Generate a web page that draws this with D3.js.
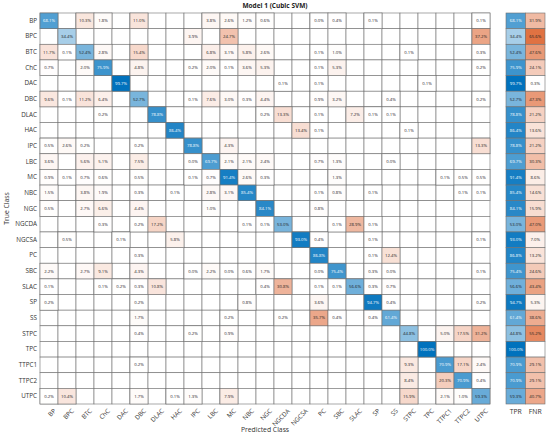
<!DOCTYPE html>
<html>
<head>
<meta charset="utf-8">
<script src="https://cdn.jsdelivr.net/npm/d3@7"></script>
<style>
  body { margin: 0; background: #fff; }
  text { font-family: "Open Sans", "DejaVu Sans", sans-serif; }
</style>
</head>
<body>
<svg id="chart" width="550" height="441"></svg>
<script>
// Classes (true = rows, predicted = columns)
const classes = ["BP","BPC","BTC","ChC","DAC","DBC","DLAC","HAC","IPC","LBC","MC","NBC","NGC",
  "NGCDA","NGCSA","PC","SBC","SLAC","SP","SS","STPC","TPC","TTPC1","TTPC2","UTPC"];

// non-zero cells per true class: [predicted class, percent]
const rowBP    = [["BP",68.1],["BTC",10.3],["ChC",1.8],["DBC",11.0],["LBC",3.8],["MC",2.6],["NBC",1.2],["NGC",0.6],["PC",0.0],["SBC",0.4],["SP",0.1],["UTPC",0.1]];
const rowBPC   = [["BPC",34.4],["IPC",3.9],["MC",24.7],["UTPC",37.2]];
const rowBTC   = [["BP",11.7],["BPC",0.1],["BTC",52.4],["ChC",2.8],["DBC",15.4],["LBC",6.8],["MC",3.1],["NBC",5.8],["NGC",2.6],["PC",0.1],["SBC",1.0],["STPC",0.1],["UTPC",0.3]];
const rowChC   = [["BP",0.7],["BTC",2.0],["ChC",75.9],["DBC",4.8],["IPC",0.2],["LBC",2.0],["MC",0.1],["NBC",3.6],["NGC",5.3],["PC",0.1],["SBC",5.3],["UTPC",0.2]];
const rowDAC   = [["DAC",99.7],["NGCDA",0.1],["PC",0.1],["TPC",0.1]];
const rowDBC   = [["BP",9.6],["BPC",0.1],["BTC",11.2],["ChC",6.4],["DBC",52.7],["IPC",0.1],["LBC",7.6],["MC",3.0],["NBC",0.3],["NGC",4.4],["PC",0.9],["SBC",3.2],["SS",0.4],["UTPC",0.2]];
const rowDLAC  = [["ChC",0.2],["DLAC",78.8],["NGC",0.2],["NGCDA",13.3],["PC",0.1],["SLAC",7.2],["SP",0.1],["SS",0.1]];
const rowHAC   = [["HAC",86.4],["NGCSA",13.4],["PC",0.1],["STPC",0.1]];
const rowIPC   = [["BP",0.5],["BPC",2.6],["BTC",0.2],["DBC",0.2],["IPC",78.8],["MC",4.3],["UTPC",13.3]];
const rowLBC   = [["BP",3.6],["BTC",5.6],["ChC",5.1],["DBC",7.5],["IPC",0.0],["LBC",69.7],["MC",2.1],["NBC",2.1],["NGC",2.4],["PC",0.7],["SBC",1.3],["SS",0.0]];
const rowMC    = [["BP",0.9],["BPC",0.1],["BTC",0.7],["ChC",0.6],["DBC",0.5],["IPC",0.1],["LBC",0.7],["MC",91.4],["NBC",2.6],["NGC",0.3],["SBC",1.3],["TTPC1",0.1],["TTPC2",0.5],["UTPC",0.5]];
const rowNBC   = [["BP",1.5],["BTC",3.8],["ChC",1.9],["DBC",0.3],["HAC",0.1],["LBC",2.8],["MC",3.1],["NBC",85.4],["PC",0.1],["SBC",0.8],["SP",0.1],["TTPC2",0.1],["UTPC",0.1]];
const rowNGC   = [["BP",0.5],["BTC",2.7],["ChC",6.6],["DBC",4.4],["LBC",1.0],["NGC",84.1],["PC",0.8]];
const rowNGCDA = [["ChC",0.3],["DBC",0.2],["DLAC",17.2],["NBC",0.1],["NGC",0.1],["NGCDA",53.0],["SBC",0.1],["SLAC",28.9],["SP",0.1]];
const rowNGCSA = [["BPC",0.5],["DAC",0.1],["HAC",5.8],["NGCSA",93.0],["PC",0.4],["SP",0.1],["UTPC",0.1]];
const rowPC    = [["DBC",0.3],["PC",86.8],["SP",0.1],["SS",12.4]];
const rowSBC   = [["BP",2.2],["BTC",2.7],["ChC",9.1],["DBC",4.3],["IPC",0.0],["LBC",2.2],["MC",0.0],["NBC",0.6],["NGC",1.7],["PC",0.0],["SBC",75.4],["SP",0.3],["SS",0.0],["UTPC",0.1]];
const rowSLAC  = [["BP",0.1],["ChC",0.1],["DAC",0.2],["DBC",0.3],["DLAC",10.8],["NGC",0.4],["NGCDA",30.8],["PC",0.1],["SBC",0.1],["SLAC",56.6],["SP",0.3],["SS",0.7]];
const rowSP    = [["BP",0.2],["DBC",0.2],["NBC",0.8],["PC",3.6],["SP",94.7],["SS",0.4],["UTPC",0.2]];
const rowSS    = [["DBC",1.7],["MC",0.2],["NGCDA",0.2],["PC",35.7],["SBC",0.4],["SP",0.4],["SS",61.4]];
const rowSTPC  = [["DBC",0.4],["IPC",0.2],["MC",0.9],["STPC",44.8],["TTPC1",5.0],["TTPC2",17.5],["UTPC",31.2]];
const rowTPC   = [["TPC",100.0]];
const rowTTPC1 = [["DBC",0.2],["STPC",9.3],["TTPC1",70.9],["TTPC2",17.1],["UTPC",2.4]];
const rowTTPC2 = [["STPC",8.4],["TTPC1",20.3],["TTPC2",70.9],["UTPC",0.4]];
const rowUTPC  = [["BP",0.2],["BPC",10.4],["DBC",1.7],["HAC",0.1],["IPC",1.3],["MC",7.9],["STPC",15.9],["TTPC1",2.1],["TTPC2",1.0],["UTPC",59.3]];

const rows = [rowBP,rowBPC,rowBTC,rowChC,rowDAC,rowDBC,rowDLAC,rowHAC,rowIPC,rowLBC,rowMC,rowNBC,rowNGC,
  rowNGCDA,rowNGCSA,rowPC,rowSBC,rowSLAC,rowSP,rowSS,rowSTPC,rowTPC,rowTTPC1,rowTTPC2,rowUTPC];

const tpr = [68.1,34.4,52.4,75.9,99.7,52.7,78.8,86.4,78.8,69.7,91.4,85.4,84.1,53.0,93.0,86.8,75.4,56.6,94.7,61.4,44.8,100.0,70.9,70.9,59.3];
const fnr = [31.9,65.6,47.6,24.1,0.3,47.3,21.2,13.6,21.2,30.3,8.6,14.6,15.9,47.0,7.0,13.2,24.6,43.4,5.3,38.6,55.2,null,29.1,29.1,40.7];

const svg = d3.select("#chart");
const mLeft = 40, mTop = 13, mRight = 490, mBottom = 404;

const x = d3.scaleBand().domain(classes).range([mLeft, mRight]);
const y = d3.scaleBand().domain(classes).range([mTop, mBottom]);
const xs = d3.scaleBand().domain(["TPR","FNR"]).range([506, 545]);

const blue = d3.interpolateRgb("#ffffff", "#0072bd");
const orange = d3.interpolateRgb("#ffffff", "#d95319");
const fmt = v => v.toFixed(1) + "%";
const gridColor = "#6f6f6f";

const cells = [];
rows.forEach((r, i) => r.forEach(([p, v]) => cells.push({t: classes[i], p, v})));

// grid background
svg.append("g").selectAll("rect")
  .data(d3.cross(classes, classes))
  .join("rect")
    .attr("x", d => x(d[1])).attr("y", d => y(d[0]))
    .attr("width", x.bandwidth()).attr("height", y.bandwidth())
    .attr("fill", "#fff").attr("stroke", gridColor).attr("stroke-width", 0.6);

const fill = d => d.t === d.p ? blue(d.v / 100) : orange(Math.min(1, d.v / 70));
const dark = d => d.v > 60;

const cg = svg.append("g");
cg.selectAll("rect").data(cells).join("rect")
  .attr("x", d => x(d.p)).attr("y", d => y(d.t))
  .attr("width", x.bandwidth()).attr("height", y.bandwidth())
  .attr("fill", fill).attr("stroke", gridColor).attr("stroke-width", 0.6);
cg.selectAll("text").data(cells).join("text")
  .attr("x", d => x(d.p) + x.bandwidth() / 2).attr("y", d => y(d.t) + y.bandwidth() / 2)
  .attr("dy", "0.35em").attr("text-anchor", "middle")
  .attr("font-size", 4.3)
  .attr("fill", d => dark(d) ? "#fff" : "#222")
  .text(d => fmt(d.v));

// TPR / FNR summary columns
const summ = [];
classes.forEach((c, i) => {
  summ.push({c, k: "TPR", v: tpr[i]});
  summ.push({c, k: "FNR", v: fnr[i]});
});
const sg = svg.append("g");
sg.selectAll("rect").data(summ).join("rect")
  .attr("x", d => xs(d.k)).attr("y", d => y(d.c))
  .attr("width", xs.bandwidth()).attr("height", y.bandwidth())
  .attr("fill", d => d.v == null ? "#fff" : d.k === "TPR" ? blue(d.v / 100) : orange(Math.min(1, d.v / 80)))
  .attr("stroke", gridColor).attr("stroke-width", 0.6);
sg.selectAll("text").data(summ.filter(d => d.v != null)).join("text")
  .attr("x", d => xs(d.k) + xs.bandwidth() / 2).attr("y", d => y(d.c) + y.bandwidth() / 2)
  .attr("dy", "0.35em").attr("text-anchor", "middle")
  .attr("font-size", 4.3)
  .attr("fill", d => d.k === "TPR" && d.v > 60 ? "#fff" : "#222")
  .text(d => fmt(d.v));

// axes
const yAxis = svg.append("g").attr("transform", `translate(${mLeft},0)`)
  .call(d3.axisLeft(y).tickSize(0).tickPadding(3));
yAxis.select(".domain").remove();
yAxis.selectAll("text").attr("font-size", 6.3).attr("fill", "#333");

const xAxis = svg.append("g").attr("transform", `translate(0,${mBottom})`)
  .call(d3.axisBottom(x).tickSize(0).tickPadding(3));
xAxis.select(".domain").remove();
xAxis.selectAll("text").attr("font-size", 6.3).attr("fill", "#333")
  .attr("text-anchor", "end").attr("dy", "0.5em")
  .attr("transform", "translate(3,3) rotate(-45)");

const sAxis = svg.append("g").attr("transform", `translate(0,${mBottom})`)
  .call(d3.axisBottom(xs).tickSize(0).tickPadding(5));
sAxis.select(".domain").remove();
sAxis.selectAll("text").attr("font-size", 6.8).attr("fill", "#333");

svg.append("text").attr("x", 275).attr("y", 8).attr("text-anchor", "middle")
  .attr("font-size", 6.5).attr("font-weight", "bold").attr("fill", "#222").text("Model 1 (Cubic SVM)");
svg.append("text").attr("x", (mLeft + mRight) / 2).attr("y", 432).attr("text-anchor", "middle")
  .attr("font-size", 6.8).attr("fill", "#333").text("Predicted Class");
svg.append("text").attr("transform", `translate(9,${(mTop + mBottom) / 2}) rotate(-90)`)
  .attr("text-anchor", "middle").attr("font-size", 6.8).attr("fill", "#333").text("True Class");
</script>
</body>
</html>
